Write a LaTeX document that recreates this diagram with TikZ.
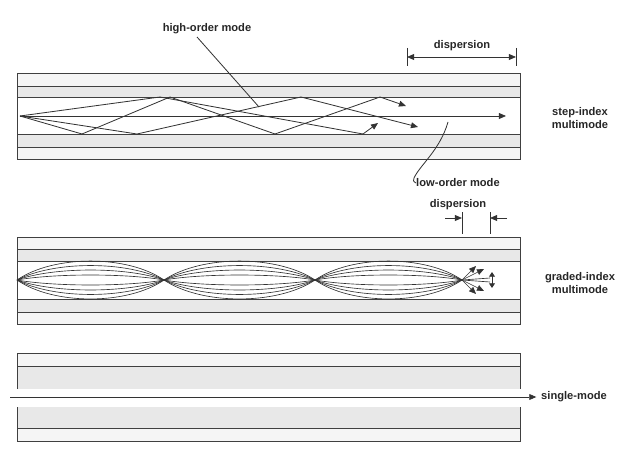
\documentclass[tikz,border=0pt]{standalone}
\usepackage{fontspec}
\setmainfont{Liberation Sans}
\usetikzlibrary{arrows.meta}
\begin{document}
\begin{tikzpicture}[x=0.03cm,y=-0.03cm,
  lbl/.style={font=\fontsize{9.5}{11}\selectfont\bfseries, text=black!85, align=center, inner sep=0},
  ray/.style={draw=black!80, line width=0.7pt},
  arr/.style={-{Triangle[length=6pt,width=5pt]}},
  fib/.style={draw=black!75, line width=0.8pt},
  clad/.style={fill=black!9},
  outer/.style={fill=black!4}]
\useasboundingbox (0,0) rectangle (625,455);
% ---------- fiber 1 ----------
\fill[outer] (17,73) rectangle (520,86);
\fill[clad] (17,86) rectangle (520,97);
\fill[clad] (17,134) rectangle (520,147);
\fill[outer] (17,147) rectangle (520,159);
\draw[fib] (17,73) rectangle (520,159);
\foreach \y in {86,97,134,147} \draw[fib] (17,\y) -- (520,\y);
\coordinate (s1) at (20,116);
\coordinate (e1) at (506,116);
\draw[ray,arr] (s1) -- (e1);
\draw[ray,arr] (s1) -- (82,134) -- (170,97) -- (275,134) -- (380,97) -- (406,106);
\draw[ray,arr] (s1) -- (160,97) -- (363,134) -- (378,123);
\draw[ray,arr] (s1) -- (137,134) -- (301,97) -- (418,127);
\node[lbl] (ho) at (207,29) {high-order mode};
\coordinate (hoend) at (259,107);
\draw[ray] (197,37) -- (hoend);
\node[lbl] (d1) at (462,46) {dispersion};
\coordinate (d1a) at (407,57); \coordinate (d1b) at (516,57);
\draw[ray] (407,48) -- (407,66); \draw[ray] (516,48) -- (516,66);
\draw[ray,{Triangle[length=6pt,width=5pt]}-{Triangle[length=6pt,width=5pt]}] (d1a) -- (d1b);
\node[lbl] (si) at (580,118) {step-index\\multimode};
\node[lbl,anchor=west] (lo) at (416,183) {low-order mode};
\coordinate (loend) at (448,122);
\draw[ray] (loend) .. controls (440,150) and (420,165) .. (414,178) .. controls (413,181) .. (416,183);
% ---------- fiber 2 ----------
\fill[outer] (17,237) rectangle (520,249);
\fill[clad] (17,249) rectangle (520,261);
\fill[clad] (17,299) rectangle (520,312);
\fill[outer] (17,312) rectangle (520,324);
\draw[fib] (17,237) rectangle (520,324);
\foreach \y in {249,261,299,312} \draw[fib] (17,\y) -- (520,\y);
\foreach \xa/\xb in {17/164,164/315,315/462}{
  \foreach \a in {5,10,14.5,19}{
    \draw[ray,line width=0.55pt] (\xa,280) .. controls ({\xa+0.25*(\xb-\xa)},{280-1.33*\a}) and ({\xb-0.25*(\xb-\xa)},{280-1.33*\a}) .. (\xb,280);
    \draw[ray,line width=0.55pt] (\xa,280) .. controls ({\xa+0.25*(\xb-\xa)},{280+1.33*\a}) and ({\xb-0.25*(\xb-\xa)},{280+1.33*\a}) .. (\xb,280);
  }}
\coordinate (f2) at (462,280);
\foreach \tx/\ty in {476/266,484/269,484/291,476/294}
  \draw[ray,line width=0.55pt,arr] (f2) -- (\tx,\ty);
\draw[ray,line width=0.55pt] (f2) -- (490,278) (f2) -- (490,282);
\draw[ray,{Triangle[length=4pt,width=5pt]}-{Triangle[length=4pt,width=5pt]}] (492,272) -- (492,288);
\node[lbl] (d2) at (458,205) {dispersion};
\coordinate (t2a) at (462,218); \coordinate (t2b) at (490,218);
\draw[ray] (462,212) -- (462,234); \draw[ray] (490,212) -- (490,234);
\draw[ray,arr] (445,218) -- (t2a);
\draw[ray,arr] (507,218) -- (t2b);
\node[lbl] (gi) at (580,283) {graded-index\\multimode};
% ---------- fiber 3 ----------
\fill[outer] (17,353) rectangle (520,366);
\fill[clad] (17,366) rectangle (520,389);
\fill[clad] (17,407) rectangle (520,428);
\fill[outer] (17,428) rectangle (520,441);
\draw[fib] (17,389) -- (17,353) -- (520,353) -- (520,389);
\draw[fib] (17,407) -- (17,441) -- (520,441) -- (520,407);
\draw[fib] (17,366) -- (520,366) (17,428) -- (520,428);
\node[lbl,anchor=west] (sm) at (541,397) {single-mode};
\coordinate (s3) at (10,397);
\draw[ray,arr,shorten >=4pt] (s3) -- (sm.west);
\end{tikzpicture}
\end{document}
